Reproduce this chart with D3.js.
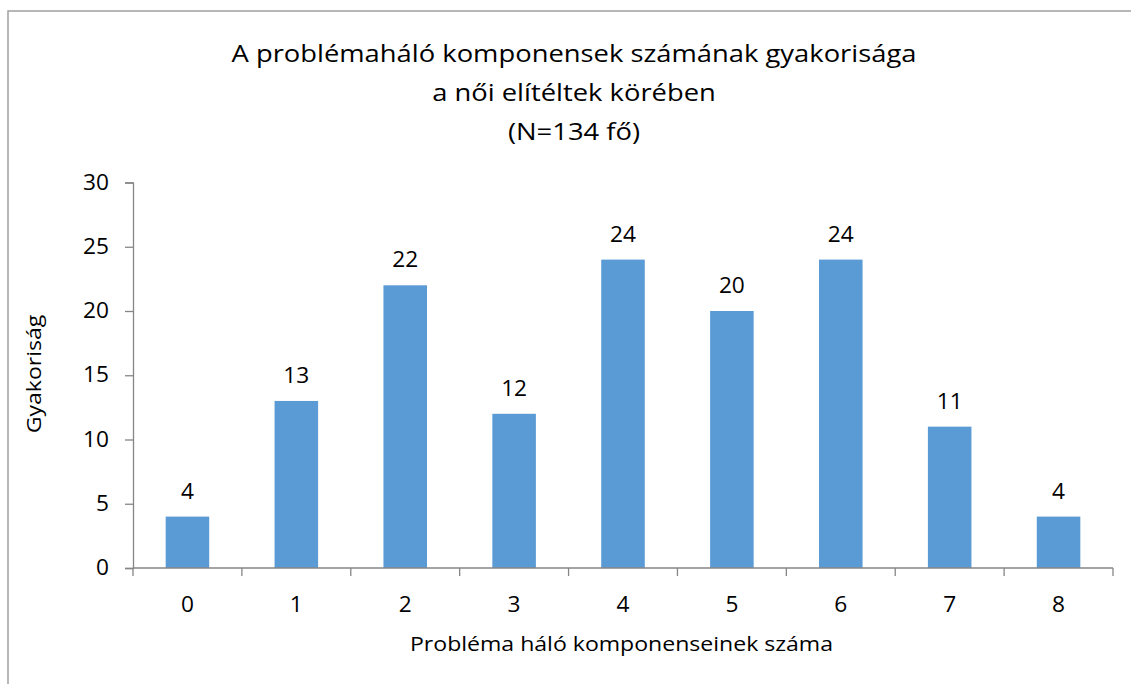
<!DOCTYPE html>
<html><head><meta charset="utf-8">
<script src="https://cdn.jsdelivr.net/npm/d3@7"></script>
<style>body{margin:0;background:#fff;} text{font-family:"Open Sans", sans-serif; fill:#000;}</style>
</head><body><svg id="c" width="1131" height="684"></svg>
<script>
const categories = ["0","1","2","3","4","5","6","7","8"];
const values = [4,13,22,12,24,20,24,11,4];
const yTicks = [0,5,10,15,20,25,30];
const titleLines = ["A problémaháló komponensek számának gyakorisága","a női elítéltek körében","(N=134 fő)"];
const xTitle = "Probléma háló komponenseinek száma";
const yTitle = "Gyakoriság";

const svg = d3.select("#c");
svg.append("rect").attr("x",8).attr("y",11).attr("width",1140).attr("height",700)
  .attr("fill","none").attr("stroke","#a0a0a0").attr("stroke-width",1.5);

const m = {l:133, r:1113, t:182.5, b:568};
const x = d3.scaleBand().domain(categories).range([m.l,m.r]).paddingInner(0.6).paddingOuter(0.3);
const y = d3.scaleLinear().domain([0,30]).range([m.b,m.t]);

svg.selectAll("rect.bar").data(values).enter().append("rect").attr("class","bar")
  .attr("x",(d,i)=>x(categories[i])).attr("width",x.bandwidth())
  .attr("y",d=>y(d)).attr("height",d=>y(0)-y(d)).attr("fill","#5B9BD5");

const axisColor="#868686";
const ya = svg.append("g").attr("transform",`translate(${m.l},0)`)
  .call(d3.axisLeft(y).tickValues(yTicks).tickSize(8).tickPadding(16));
ya.selectAll("line,path").attr("stroke",axisColor).attr("stroke-width",1.3);
ya.selectAll("text").attr("class","num").style("font-size","21px").style("font-family","Open Sans").attr("fill","#000");

const xa = svg.append("g").attr("transform",`translate(0,${m.b})`);
xa.append("line").attr("x1",m.l).attr("x2",m.r).attr("stroke",axisColor).attr("stroke-width",1.3);
const step = (m.r-m.l)/categories.length;
d3.range(categories.length+1).forEach(i=>{
  xa.append("line").attr("x1",m.l+i*step).attr("x2",m.l+i*step).attr("y1",0).attr("y2",8)
    .attr("stroke",axisColor).attr("stroke-width",1.3);
});
xa.selectAll("text.xl").data(categories).enter().append("text").attr("class","xl num")
  .attr("x",d=>x(d)+x.bandwidth()/2).attr("y",44).attr("text-anchor","middle")
  .style("font-size","21px").text(d=>d);

svg.selectAll("text.val").data(values).enter().append("text").attr("class","val num")
  .attr("x",(d,i)=>x(categories[i])+x.bandwidth()/2).attr("y",d=>y(d)-18)
  .attr("text-anchor","middle").style("font-size","21px").text(d=>d);

const tl = svg.selectAll("text.title").data(titleLines).enter().append("text").attr("class","title")
  .attr("x",574).attr("y",(d,i)=>62+i*39).attr("text-anchor","middle")
  .style("font-size","24px").text(d=>d);

const xt = svg.append("text").attr("x",621.5).attr("y",651).attr("text-anchor","middle")
  .style("font-size","20.5px").text(xTitle);
const yt = svg.append("text").attr("transform","translate(41,374) rotate(-90)").attr("text-anchor","middle")
  .style("font-size","20.5px").text(yTitle);

function stretch(sel, k){ sel.each(function(){ const L=this.getComputedTextLength(); d3.select(this).attr("textLength",L*k).attr("lengthAdjust","spacingAndGlyphs"); }); }
const kt = 685 / tl.node().getComputedTextLength();
stretch(tl, kt);
const ka = 423 / xt.node().getComputedTextLength();
stretch(xt, ka); stretch(yt, ka);
stretch(svg.selectAll("text.num"), 1.08);
</script></body></html>
